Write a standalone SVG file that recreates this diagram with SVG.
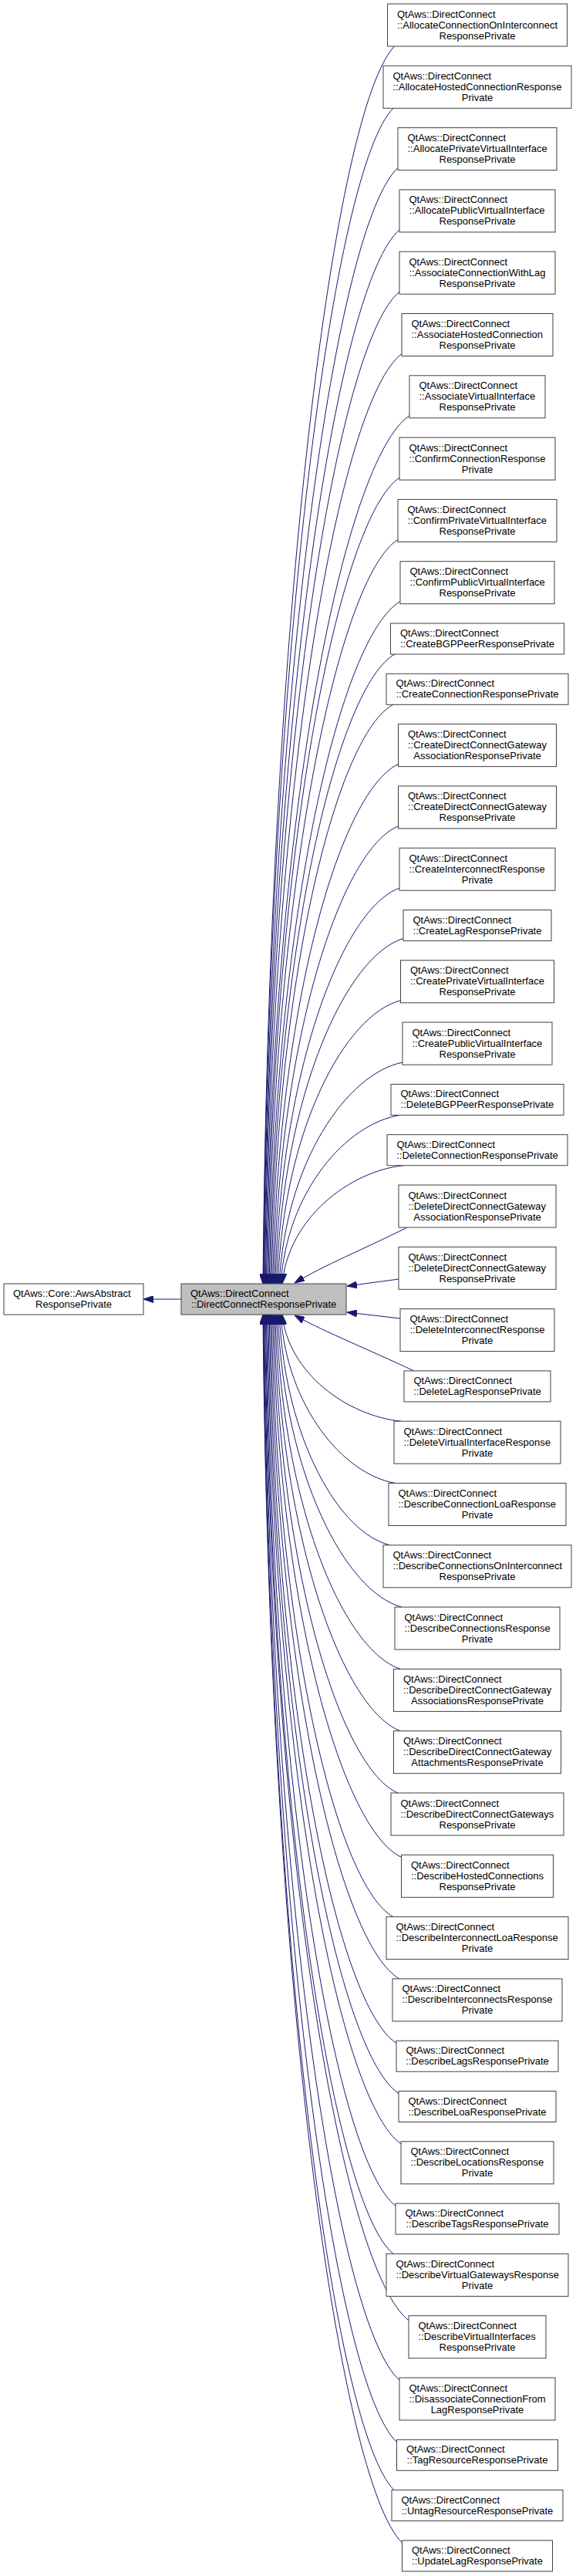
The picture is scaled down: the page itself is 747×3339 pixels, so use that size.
<svg xmlns="http://www.w3.org/2000/svg" width="747" height="3339" viewBox="0 0 747 3339">
<defs>
<style>
.n rect{fill:#ffffff;stroke:#404040;stroke-width:1}
.n.c rect{fill:#bfbfbf}
.n text{font-family:"Liberation Sans",Arial,Helvetica,sans-serif;font-size:13px;fill:#000000}
.n text.m{text-anchor:middle}
#edges path{fill:none;stroke:#191970;stroke-width:1;marker-end:url(#ah)}
</style>
<marker id="ah" viewBox="0 0 13 9" refX="13" refY="4.5" markerWidth="13" markerHeight="9" orient="auto" markerUnits="userSpaceOnUse">
<path d="M0,0 L13,4.5 L0,9 Z" fill="#191970" stroke="#191970" stroke-width="1"/>
</marker>
</defs>
<rect x="0" y="0" width="747" height="3339" fill="#ffffff"/>
<g id="edges">
<path d="M235,1684 L186,1684"/>
<path d="M511.5,60 C434.8,140.2 349,781.8 341,1664"/>
<path d="M510,140.3 C434.1,216.5 349.3,826 341.3,1664"/>
<path d="M516,217.6 C437.7,289.9 349.9,868.5 341.9,1664"/>
<path d="M518,297.9 C439.1,366.2 350.6,912.6 342.6,1664"/>
<path d="M518,378.2 C439.4,442.5 351.4,956.8 343.4,1664"/>
<path d="M521,458.5 C441.5,518.8 352.4,1001 344.4,1664"/>
<path d="M531,538.8 C447.5,595.1 353.4,1045.1 345.4,1664"/>
<path d="M518,619.1 C440.9,671.3 354.6,1089.3 346.6,1664"/>
<path d="M516,699.4 C440.3,747.6 355.8,1133.5 347.8,1664"/>
<path d="M519,779.7 C442.6,823.9 357.2,1177.6 349.2,1664"/>
<path d="M512,848 C439.3,888.8 358.5,1215.2 350.5,1664"/>
<path d="M510,913.3 C438.9,950.8 360,1251.1 352,1664"/>
<path d="M516.5,990.6 C443.2,1024.3 361.6,1293.6 353.6,1664"/>
<path d="M516.5,1070.9 C443.9,1100.6 363.2,1337.8 355.2,1664"/>
<path d="M518,1151.2 C445.5,1176.8 364.8,1382 356.8,1664"/>
<path d="M523,1216.5 C449,1238.9 366.5,1417.9 358.5,1664"/>
<path d="M519.5,1296.8 C447.9,1315.2 368.3,1462 360.3,1664"/>
<path d="M522,1377.1 C450.1,1391.4 370.2,1506.2 362.2,1664"/>
<path d="M519,1445.4 C449.3,1456.3 372.1,1543.8 364.1,1664"/>
<path d="M523,1510.7 C452.4,1518.4 374,1579.7 366,1664"/>
<path d="M528,1591 C470,1620 420,1640 382,1663"/>
<path d="M517,1658 L450,1667"/>
<path d="M519,1709 L450,1701"/>
<path d="M537,1777 C475,1748 425,1728 382,1705"/>
<path d="M520,1842.2 C450.7,1835.3 374,1780 366,1704"/>
<path d="M513,1922.5 C446,1911.6 372.1,1824.2 364.1,1704"/>
<path d="M506,2002.8 C441.3,1987.9 370.2,1868.3 362.2,1704"/>
<path d="M521,2083.1 C448.7,2064.1 368.3,1912.5 360.3,1704"/>
<path d="M519.5,2163.4 C447,2140.4 366.5,1956.7 358.5,1704"/>
<path d="M519.5,2243.7 C446.3,2216.7 364.8,2000.8 356.8,1704"/>
<path d="M516,2324 C443.6,2293 363.2,2045 355.2,1704"/>
<path d="M520.5,2407.3 C445.4,2372.1 361.6,2090.8 353.6,1704"/>
<path d="M510,2484.6 C438.9,2445.6 360,2133.3 352,1704"/>
<path d="M518,2564.9 C442.6,2521.9 358.5,2177.5 350.5,1704"/>
<path d="M514,2648.2 C439.8,2601 357.2,2223.3 349.2,1704"/>
<path d="M517,2713.5 C440.9,2663 355.8,2259.2 347.8,1704"/>
<path d="M520,2778.8 C442,2725.1 354.6,2295.1 346.6,1704"/>
<path d="M513,2859.1 C437.6,2801.3 353.4,2339.3 345.4,1704"/>
<path d="M510,2921.4 C435.5,2860.5 352.4,2373.6 344.4,1704"/>
<path d="M530,3007.7 C446,2942.5 351.4,2421 343.4,1704"/>
<path d="M518,3085 C439.1,3016 350.6,2463.6 342.6,1704"/>
<path d="M514.5,3165.3 C436.8,3092.2 349.9,2507.7 341.9,1704"/>
<path d="M511,3227.6 C434.6,3151.4 349.3,2542 341.3,1704"/>
<path d="M521.5,3295.9 C440.3,3216.3 349,2579.5 341,1704"/>
</g>
<g id="base" class="n" transform="translate(5,1664)"><rect width="181" height="40"/><text x="12" y="17">QtAws::Core::AwsAbstract</text><text class="m" x="90.5" y="31">ResponsePrivate</text></g>
<g id="central" class="n c" transform="translate(235,1664)"><rect width="214" height="40"/><text x="12" y="17">QtAws::DirectConnect</text><text class="m" x="107" y="31">::DirectConnectResponsePrivate</text></g>
<g id="node1" class="n" transform="translate(502.5,5)"><rect width="233" height="55"/><text x="12.5" y="17.5">QtAws::DirectConnect</text><text x="12.5" y="31.5">::AllocateConnectionOnInterconnect</text><text class="m" x="116.5" y="45.5">ResponsePrivate</text></g>
<g id="node2" class="n" transform="translate(497,85.3)"><rect width="244" height="55"/><text x="12.5" y="17.5">QtAws::DirectConnect</text><text x="12.5" y="31.5">::AllocateHostedConnectionResponse</text><text class="m" x="122" y="45.5">Private</text></g>
<g id="node3" class="n" transform="translate(516,165.6)"><rect width="206" height="55"/><text x="12.5" y="17.5">QtAws::DirectConnect</text><text x="12.5" y="31.5">::AllocatePrivateVirtualInterface</text><text class="m" x="103" y="45.5">ResponsePrivate</text></g>
<g id="node4" class="n" transform="translate(518,245.9)"><rect width="202" height="55"/><text x="12.5" y="17.5">QtAws::DirectConnect</text><text x="12.5" y="31.5">::AllocatePublicVirtualInterface</text><text class="m" x="101" y="45.5">ResponsePrivate</text></g>
<g id="node5" class="n" transform="translate(518,326.2)"><rect width="202" height="55"/><text x="12.5" y="17.5">QtAws::DirectConnect</text><text x="12.5" y="31.5">::AssociateConnectionWithLag</text><text class="m" x="101" y="45.5">ResponsePrivate</text></g>
<g id="node6" class="n" transform="translate(521,406.5)"><rect width="196" height="55"/><text x="12.5" y="17.5">QtAws::DirectConnect</text><text x="12.5" y="31.5">::AssociateHostedConnection</text><text class="m" x="98" y="45.5">ResponsePrivate</text></g>
<g id="node7" class="n" transform="translate(531,486.8)"><rect width="176" height="55"/><text x="12.5" y="17.5">QtAws::DirectConnect</text><text x="12.5" y="31.5">::AssociateVirtualInterface</text><text class="m" x="88" y="45.5">ResponsePrivate</text></g>
<g id="node8" class="n" transform="translate(518,567.1)"><rect width="202" height="55"/><text x="12.5" y="17.5">QtAws::DirectConnect</text><text x="12.5" y="31.5">::ConfirmConnectionResponse</text><text class="m" x="101" y="45.5">Private</text></g>
<g id="node9" class="n" transform="translate(516,647.4)"><rect width="206" height="55"/><text x="12.5" y="17.5">QtAws::DirectConnect</text><text x="12.5" y="31.5">::ConfirmPrivateVirtualInterface</text><text class="m" x="103" y="45.5">ResponsePrivate</text></g>
<g id="node10" class="n" transform="translate(519,727.7)"><rect width="200" height="55"/><text x="12.5" y="17.5">QtAws::DirectConnect</text><text x="12.5" y="31.5">::ConfirmPublicVirtualInterface</text><text class="m" x="100" y="45.5">ResponsePrivate</text></g>
<g id="node11" class="n" transform="translate(506.5,808)"><rect width="225" height="40"/><text x="12.5" y="17">QtAws::DirectConnect</text><text class="m" x="112.5" y="31">::CreateBGPPeerResponsePrivate</text></g>
<g id="node12" class="n" transform="translate(501,873.3)"><rect width="236" height="40"/><text x="12.5" y="17">QtAws::DirectConnect</text><text class="m" x="118" y="31">::CreateConnectionResponsePrivate</text></g>
<g id="node13" class="n" transform="translate(516.5,938.6)"><rect width="205" height="55"/><text x="12.5" y="17.5">QtAws::DirectConnect</text><text x="12.5" y="31.5">::CreateDirectConnectGateway</text><text class="m" x="102.5" y="45.5">AssociationResponsePrivate</text></g>
<g id="node14" class="n" transform="translate(516.5,1018.9)"><rect width="205" height="55"/><text x="12.5" y="17.5">QtAws::DirectConnect</text><text x="12.5" y="31.5">::CreateDirectConnectGateway</text><text class="m" x="102.5" y="45.5">ResponsePrivate</text></g>
<g id="node15" class="n" transform="translate(518,1099.2)"><rect width="202" height="55"/><text x="12.5" y="17.5">QtAws::DirectConnect</text><text x="12.5" y="31.5">::CreateInterconnectResponse</text><text class="m" x="101" y="45.5">Private</text></g>
<g id="node16" class="n" transform="translate(523,1179.5)"><rect width="192" height="40"/><text x="12.5" y="17">QtAws::DirectConnect</text><text class="m" x="96" y="31">::CreateLagResponsePrivate</text></g>
<g id="node17" class="n" transform="translate(519.5,1244.8)"><rect width="199" height="55"/><text x="12.5" y="17.5">QtAws::DirectConnect</text><text x="12.5" y="31.5">::CreatePrivateVirtualInterface</text><text class="m" x="99.5" y="45.5">ResponsePrivate</text></g>
<g id="node18" class="n" transform="translate(522,1325.1)"><rect width="194" height="55"/><text x="12.5" y="17.5">QtAws::DirectConnect</text><text x="12.5" y="31.5">::CreatePublicVirtualInterface</text><text class="m" x="97" y="45.5">ResponsePrivate</text></g>
<g id="node19" class="n" transform="translate(507,1405.4)"><rect width="224" height="40"/><text x="12.5" y="17">QtAws::DirectConnect</text><text class="m" x="112" y="31">::DeleteBGPPeerResponsePrivate</text></g>
<g id="node20" class="n" transform="translate(502,1470.7)"><rect width="234" height="40"/><text x="12.5" y="17">QtAws::DirectConnect</text><text class="m" x="117" y="31">::DeleteConnectionResponsePrivate</text></g>
<g id="node21" class="n" transform="translate(517,1536)"><rect width="204" height="55"/><text x="12.5" y="17.5">QtAws::DirectConnect</text><text x="12.5" y="31.5">::DeleteDirectConnectGateway</text><text class="m" x="102" y="45.5">AssociationResponsePrivate</text></g>
<g id="node22" class="n" transform="translate(517,1616.3)"><rect width="204" height="55"/><text x="12.5" y="17.5">QtAws::DirectConnect</text><text x="12.5" y="31.5">::DeleteDirectConnectGateway</text><text class="m" x="102" y="45.5">ResponsePrivate</text></g>
<g id="node23" class="n" transform="translate(519,1696.6)"><rect width="200" height="55"/><text x="12.5" y="17.5">QtAws::DirectConnect</text><text x="12.5" y="31.5">::DeleteInterconnectResponse</text><text class="m" x="100" y="45.5">Private</text></g>
<g id="node24" class="n" transform="translate(524,1776.9)"><rect width="190" height="40"/><text x="12.5" y="17">QtAws::DirectConnect</text><text class="m" x="95" y="31">::DeleteLagResponsePrivate</text></g>
<g id="node25" class="n" transform="translate(511,1842.2)"><rect width="216" height="55"/><text x="12.5" y="17.5">QtAws::DirectConnect</text><text x="12.5" y="31.5">::DeleteVirtualInterfaceResponse</text><text class="m" x="108" y="45.5">Private</text></g>
<g id="node26" class="n" transform="translate(504,1922.5)"><rect width="230" height="55"/><text x="12.5" y="17.5">QtAws::DirectConnect</text><text x="12.5" y="31.5">::DescribeConnectionLoaResponse</text><text class="m" x="115" y="45.5">Private</text></g>
<g id="node27" class="n" transform="translate(497,2002.8)"><rect width="244" height="55"/><text x="12.5" y="17.5">QtAws::DirectConnect</text><text x="12.5" y="31.5">::DescribeConnectionsOnInterconnect</text><text class="m" x="122" y="45.5">ResponsePrivate</text></g>
<g id="node28" class="n" transform="translate(512,2083.1)"><rect width="214" height="55"/><text x="12.5" y="17.5">QtAws::DirectConnect</text><text x="12.5" y="31.5">::DescribeConnectionsResponse</text><text class="m" x="107" y="45.5">Private</text></g>
<g id="node29" class="n" transform="translate(510.5,2163.4)"><rect width="217" height="55"/><text x="12.5" y="17.5">QtAws::DirectConnect</text><text x="12.5" y="31.5">::DescribeDirectConnectGateway</text><text class="m" x="108.5" y="45.5">AssociationsResponsePrivate</text></g>
<g id="node30" class="n" transform="translate(510.5,2243.7)"><rect width="217" height="55"/><text x="12.5" y="17.5">QtAws::DirectConnect</text><text x="12.5" y="31.5">::DescribeDirectConnectGateway</text><text class="m" x="108.5" y="45.5">AttachmentsResponsePrivate</text></g>
<g id="node31" class="n" transform="translate(507,2324)"><rect width="224" height="55"/><text x="12.5" y="17.5">QtAws::DirectConnect</text><text x="12.5" y="31.5">::DescribeDirectConnectGateways</text><text class="m" x="112" y="45.5">ResponsePrivate</text></g>
<g id="node32" class="n" transform="translate(520.5,2404.3)"><rect width="197" height="55"/><text x="12.5" y="17.5">QtAws::DirectConnect</text><text x="12.5" y="31.5">::DescribeHostedConnections</text><text class="m" x="98.5" y="45.5">ResponsePrivate</text></g>
<g id="node33" class="n" transform="translate(501,2484.6)"><rect width="236" height="55"/><text x="12.5" y="17.5">QtAws::DirectConnect</text><text x="12.5" y="31.5">::DescribeInterconnectLoaResponse</text><text class="m" x="118" y="45.5">Private</text></g>
<g id="node34" class="n" transform="translate(509,2564.9)"><rect width="220" height="55"/><text x="12.5" y="17.5">QtAws::DirectConnect</text><text x="12.5" y="31.5">::DescribeInterconnectsResponse</text><text class="m" x="110" y="45.5">Private</text></g>
<g id="node35" class="n" transform="translate(514,2645.2)"><rect width="210" height="40"/><text x="12.5" y="17">QtAws::DirectConnect</text><text class="m" x="105" y="31">::DescribeLagsResponsePrivate</text></g>
<g id="node36" class="n" transform="translate(517,2710.5)"><rect width="204" height="40"/><text x="12.5" y="17">QtAws::DirectConnect</text><text class="m" x="102" y="31">::DescribeLoaResponsePrivate</text></g>
<g id="node37" class="n" transform="translate(520,2775.8)"><rect width="198" height="55"/><text x="12.5" y="17.5">QtAws::DirectConnect</text><text x="12.5" y="31.5">::DescribeLocationsResponse</text><text class="m" x="99" y="45.5">Private</text></g>
<g id="node38" class="n" transform="translate(513,2856.1)"><rect width="212" height="40"/><text x="12.5" y="17">QtAws::DirectConnect</text><text class="m" x="106" y="31">::DescribeTagsResponsePrivate</text></g>
<g id="node39" class="n" transform="translate(501,2921.4)"><rect width="236" height="55"/><text x="12.5" y="17.5">QtAws::DirectConnect</text><text x="12.5" y="31.5">::DescribeVirtualGatewaysResponse</text><text class="m" x="118" y="45.5">Private</text></g>
<g id="node40" class="n" transform="translate(530,3001.7)"><rect width="178" height="55"/><text x="12.5" y="17.5">QtAws::DirectConnect</text><text x="12.5" y="31.5">::DescribeVirtualInterfaces</text><text class="m" x="89" y="45.5">ResponsePrivate</text></g>
<g id="node41" class="n" transform="translate(518,3082)"><rect width="202" height="55"/><text x="12.5" y="17.5">QtAws::DirectConnect</text><text x="12.5" y="31.5">::DisassociateConnectionFrom</text><text class="m" x="101" y="45.5">LagResponsePrivate</text></g>
<g id="node42" class="n" transform="translate(514.5,3162.3)"><rect width="209" height="40"/><text x="12.5" y="17">QtAws::DirectConnect</text><text class="m" x="104.5" y="31">::TagResourceResponsePrivate</text></g>
<g id="node43" class="n" transform="translate(508,3227.6)"><rect width="222" height="40"/><text x="12.5" y="17">QtAws::DirectConnect</text><text class="m" x="111" y="31">::UntagResourceResponsePrivate</text></g>
<g id="node44" class="n" transform="translate(521.5,3292.9)"><rect width="195" height="40"/><text x="12.5" y="17">QtAws::DirectConnect</text><text class="m" x="97.5" y="31">::UpdateLagResponsePrivate</text></g>
</svg>
